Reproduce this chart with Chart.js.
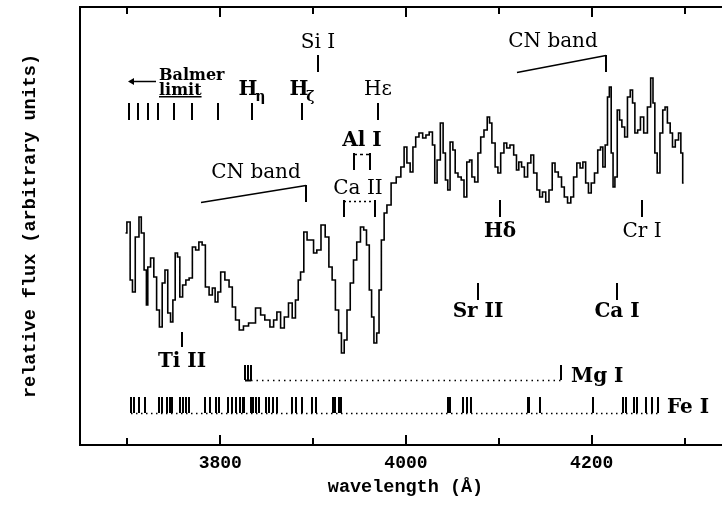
<!DOCTYPE html>
<html>
<head>
<meta charset="utf-8">
<script src="https://cdn.jsdelivr.net/npm/chart.js@4.4.1/dist/chart.umd.min.js"></script>
<style>
html, body { margin: 0; padding: 0; background: #fff; overflow: hidden; }
canvas { display: block; }
</style>
</head>
<body>
<canvas id="spectre" width="731" height="522"></canvas>
<script>
// spectre : longueur d'onde (Angstrom) et flux relatif (unites arbitraires)
const wavelength = [3698, 3701, 3705, 3706, 3711, 3714, 3716, 3720, 3721, 3723, 3727, 3730, 3733, 3736, 3739, 3742, 3745, 3748, 3750, 3753,
  3755, 3758, 3761, 3765, 3768, 3772, 3775, 3779, 3782, 3786, 3790, 3793, 3796, 3799, 3802, 3808, 3811, 3815, 3818, 3823,
  3827, 3834, 3842, 3845, 3851, 3856, 3859, 3863, 3867, 3871, 3876, 3879, 3883, 3885, 3888, 3892, 3895, 3899, 3902, 3906,
  3911, 3915, 3919, 3922, 3926, 3929, 3932, 3935, 3938, 3942, 3945, 3949, 3953, 3956, 3959, 3962, 3964, 3967, 3970, 3972,
  3975, 3978, 3981, 3987, 3992, 3997, 3999, 4003, 4006, 4009, 4012, 4016, 4020, 4023, 4027, 4030, 4032, 4035, 4039, 4041,
  4044, 4046, 4049, 4052, 4054, 4058, 4061, 4064, 4067, 4070, 4072, 4076, 4079, 4082, 4086, 4089, 4091, 4094, 4098, 4100,
  4104, 4107, 4110, 4114, 4118, 4120, 4123, 4126, 4129, 4133, 4136, 4139, 4143, 4145, 4149, 4152, 4156, 4159, 4162, 4166,
  4169, 4172, 4176, 4179, 4182, 4186, 4189, 4192, 4195, 4198, 4201, 4205, 4208, 4211, 4213, 4216, 4218, 4220, 4222, 4224,
  4226, 4229, 4231, 4234, 4237, 4240, 4243, 4245, 4248, 4251, 4254, 4258, 4262, 4265, 4267, 4269, 4272, 4275, 4278, 4280,
  4283, 4286, 4288, 4292, 4295, 4297, 4299];
const flux = [212, 223, 165, 153, 208, 228, 212, 175, 140, 178, 187, 168, 135, 118, 162, 175, 132, 123, 145, 192,
  188, 148, 160, 165, 167, 198, 195, 203, 200, 158, 150, 157, 143, 153, 173, 165, 158, 138, 125, 115,
  119, 122, 137, 130, 125, 118, 125, 133, 117, 128, 142, 127, 145, 165, 173, 213, 205, 205, 192, 195,
  220, 208, 178, 165, 135, 112, 92, 105, 135, 162, 185, 203, 218, 215, 200, 155, 128, 102, 112, 155,
  205, 232, 240, 262, 268, 278, 298, 282, 273, 298, 308, 312, 307, 310, 313, 300, 262, 285, 322, 292,
  265, 255, 303, 295, 272, 268, 265, 248, 283, 285, 268, 263, 292, 308, 315, 328, 322, 302, 278, 272,
  292, 302, 297, 300, 290, 275, 283, 278, 268, 282, 290, 272, 255, 248, 253, 243, 255, 282, 273, 268,
  258, 248, 242, 248, 268, 282, 277, 283, 262, 252, 262, 272, 295, 298, 278, 300, 348, 358, 292, 258,
  268, 335, 325, 318, 308, 348, 355, 342, 312, 315, 328, 312, 338, 367, 342, 292, 272, 312, 335, 338,
  322, 312, 298, 305, 312, 292, 262];

// graduations de l'axe x
const tickWaves = [3700, 3800, 3900, 4000, 4100, 4200, 4300];
const labelWaves = [3800, 4000, 4200];

// identification des raies (longueurs d'onde)
const balmerLines = [3702, 3711, 3722, 3733, 3750, 3770, 3798, 3834, 3888, 3970];
const mgLines = [3827, 3830, 3833, 4167];
const feLines = [3704, 3707, 3712, 3719, 3734, 3737, 3743, 3746, 3748, 3757, 3760, 3763, 3766, 3784, 3789, 3795, 3799,
  3808, 3813, 3817, 3821, 3824, 3826, 3833, 3835, 3838, 3842, 3849, 3852, 3857, 3861, 3877, 3882, 3888, 3899, 3903,
  3921, 3924, 3928, 3930, 4045, 4047, 4061, 4066, 4070, 4131, 4133, 4144, 4201, 4234, 4237, 4246, 4249, 4259, 4265, 4271];
const alLines = [3944, 3961];
const caIILines = [3933, 3967];
const singleNames = ['Si I', 'H\u03b4', 'Cr I', 'Sr II', 'Ca I', 'Ti II'];
const singleWaves = [3905, 4101, 4254, 4078, 4227, 3759];

const serif = '"DejaVu Serif"';

// plugin qui dessine les graduations et les identifications de raies
const identifications = {
  id: 'identifications',
  afterDraw(chart) {
    const ctx = chart.ctx;
    const sx = chart.scales.x, sy = chart.scales.y;
    const area = chart.chartArea;
    const X = w => Math.round(sx.getPixelForValue(w));
    const Y = f => Math.round(sy.getPixelForValue(f));
    ctx.save();
    ctx.strokeStyle = '#000';
    ctx.fillStyle = '#000';
    ctx.lineWidth = 2;

    const trait = (w, f0, f1) => {
      ctx.beginPath(); ctx.moveTo(X(w), Y(f0)); ctx.lineTo(X(w), Y(f1)); ctx.stroke();
    };
    const ligne = (w0, f0, w1, f1, dash, lw) => {
      ctx.save();
      ctx.lineWidth = lw || 1.5;
      ctx.setLineDash(dash || []);
      ctx.beginPath(); ctx.moveTo(X(w0), Y(f0) + 0.5); ctx.lineTo(X(w1), Y(f1) + 0.5); ctx.stroke();
      ctx.restore();
    };
    const texte = (t, w, f, font, align) => {
      ctx.font = font;
      ctx.textAlign = align || 'center';
      ctx.textBaseline = 'alphabetic';
      ctx.fillText(t, X(w), Y(f));
    };
    const hSub = (sub, w, f) => {
      ctx.font = 'bold 20px ' + serif;
      const wH = ctx.measureText('H').width;
      ctx.font = 'bold 14px ' + serif;
      const wS = ctx.measureText(sub).width;
      const x0 = X(w) - (wH + wS) / 2 + 1;
      ctx.textAlign = 'left';
      ctx.font = 'bold 20px ' + serif;
      ctx.fillText('H', x0, Y(f));
      ctx.font = 'bold 14px ' + serif;
      ctx.fillText(sub, x0 + wH - 2, Y(f) + 6);
    };

    // graduations en haut et en bas
    tickWaves.forEach(w => {
      const len = labelWaves.includes(w) ? 10 : 7;
      const x = X(w);
      ctx.beginPath();
      ctx.moveTo(x, area.bottom); ctx.lineTo(x, area.bottom - len);
      ctx.moveTo(x, area.top); ctx.lineTo(x, area.top + len);
      ctx.stroke();
    });

    // serie de Balmer
    balmerLines.forEach(w => trait(w, 325, 342));
    hSub('\u03b7', 3834, 350);
    hSub('\u03b6', 3888, 350);
    texte('H\u03b5', 3970, 350, '20px ' + serif);
    texte('Balmer', 3734, 365, 'bold 16px ' + serif, 'left');
    texte('limit', 3734, 350, 'bold 16px ' + serif, 'left');
    ctx.font = 'bold 16px ' + serif;
    const wl = ctx.measureText('limit').width;
    ctx.fillRect(X(3734), Y(350) + 1, wl, 1.5);
    ligne(3705, 364, 3731, 364, [], 1.5);
    ctx.beginPath();
    ctx.moveTo(X(3701), Y(364) + 0.5);
    ctx.lineTo(X(3707), Y(364) - 3);
    ctx.lineTo(X(3707), Y(364) + 4);
    ctx.closePath(); ctx.fill();

    // raies isolees
    const labelLevel = [397, 208, 208, 128, 128, 78];
    const tickLow = [373, 228, 228, 145, 145, 98];
    const tickHigh = [390, 245, 245, 162, 162, 113];
    const bold = [false, true, false, true, true, true];
    singleNames.forEach((n, i) => {
      trait(singleWaves[i], tickLow[i], tickHigh[i]);
      texte(n, singleWaves[i], labelLevel[i], (bold[i] ? 'bold ' : '') + '20px ' + serif);
    });

    // Al I et Ca II
    alLines.forEach(w => trait(w, 275, 292));
    ligne(alLines[0], 291.5, alLines[1], 291.5, [3, 3]);
    texte('Al I', (alLines[0] + alLines[1]) / 2, 299, 'bold 20px ' + serif);
    caIILines.forEach(w => trait(w, 228, 245));
    ligne(caIILines[0], 244.5, caIILines[1], 244.5, [2, 3]);
    texte('Ca II', (caIILines[0] + caIILines[1]) / 2 - 2, 251, '20px ' + serif);

    // bandes CN
    texte('CN band', 3838, 267, '20px ' + serif);
    ligne(3779, 243, 3892, 260);
    trait(3892, 243, 260);
    texte('CN band', 4158, 398, '20px ' + serif);
    ligne(4120, 373, 4215, 390);
    trait(4215, 373, 390);

    // Mg I
    mgLines.forEach(w => trait(w, 65, 80));
    ligne(mgLines[0], 65, mgLines[2], 65, [], 2);
    ligne(mgLines[2], 65, mgLines[3], 65, [1.5, 4]);
    texte('Mg I', 4178, 63, 'bold 20px ' + serif, 'left');

    // Fe I
    feLines.forEach(w => trait(w, 32, 48));
    ligne(feLines[0], 32, feLines[feLines.length - 1], 32, [1.5, 3.5]);
    texte('Fe I', 4281, 32, 'bold 20px ' + serif, 'left');

    ctx.restore();
  }
};

const mono = { family: '"Liberation Mono"', size: 18.5, weight: 'bold' };

new Chart(document.getElementById('spectre'), {
  type: 'line',
  data: {
    datasets: [{
      data: wavelength.map((w, i) => ({ x: w, y: flux[i] })),
      xAxisID: 'x',
      yAxisID: 'y',
      borderColor: '#000',
      borderWidth: 1.6,
      pointRadius: 0,
      stepped: 'middle',
      fill: false
    }]
  },
  options: {
    responsive: false,
    animation: false,
    layout: { padding: 0 },
    plugins: { legend: { display: false }, tooltip: { enabled: false } },
    scales: {
      x: {
        type: 'linear', position: 'bottom', min: 3649, max: 4350,
        afterBuildTicks: s => { s.ticks = labelWaves.map(v => ({ value: v })); },
        afterFit: s => { s.height = 77; },
        grid: { display: false, drawTicks: false },
        border: { display: true, color: '#000', width: 2 },
        ticks: {
          color: '#000', font: { family: '"Liberation Mono"', size: 18, weight: 'bold' },
          padding: 8, maxRotation: 0, autoSkip: false,
          callback: v => String(v)
        },
        title: { display: true, text: 'wavelength (\u00c5)', color: '#000', font: mono, padding: { top: 0, bottom: 24 } }
      },
      xTop: {
        axis: 'x', type: 'linear', position: 'top', min: 3649, max: 4350,
        afterFit: s => { s.height = 7; },
        grid: { display: false, drawTicks: false },
        border: { display: true, color: '#000', width: 2 },
        ticks: { display: false }
      },
      y: {
        type: 'linear', position: 'left', min: 0, max: 438,
        afterFit: s => { s.width = 80; },
        grid: { display: false, drawTicks: false },
        border: { display: true, color: '#000', width: 2 },
        ticks: { display: false },
        title: { display: true, text: 'relative flux (arbitrary units)', color: '#000', font: mono, padding: { top: 19, bottom: 0 } }
      }
    }
  },
  plugins: [identifications]
});
</script>
</body>
</html>
